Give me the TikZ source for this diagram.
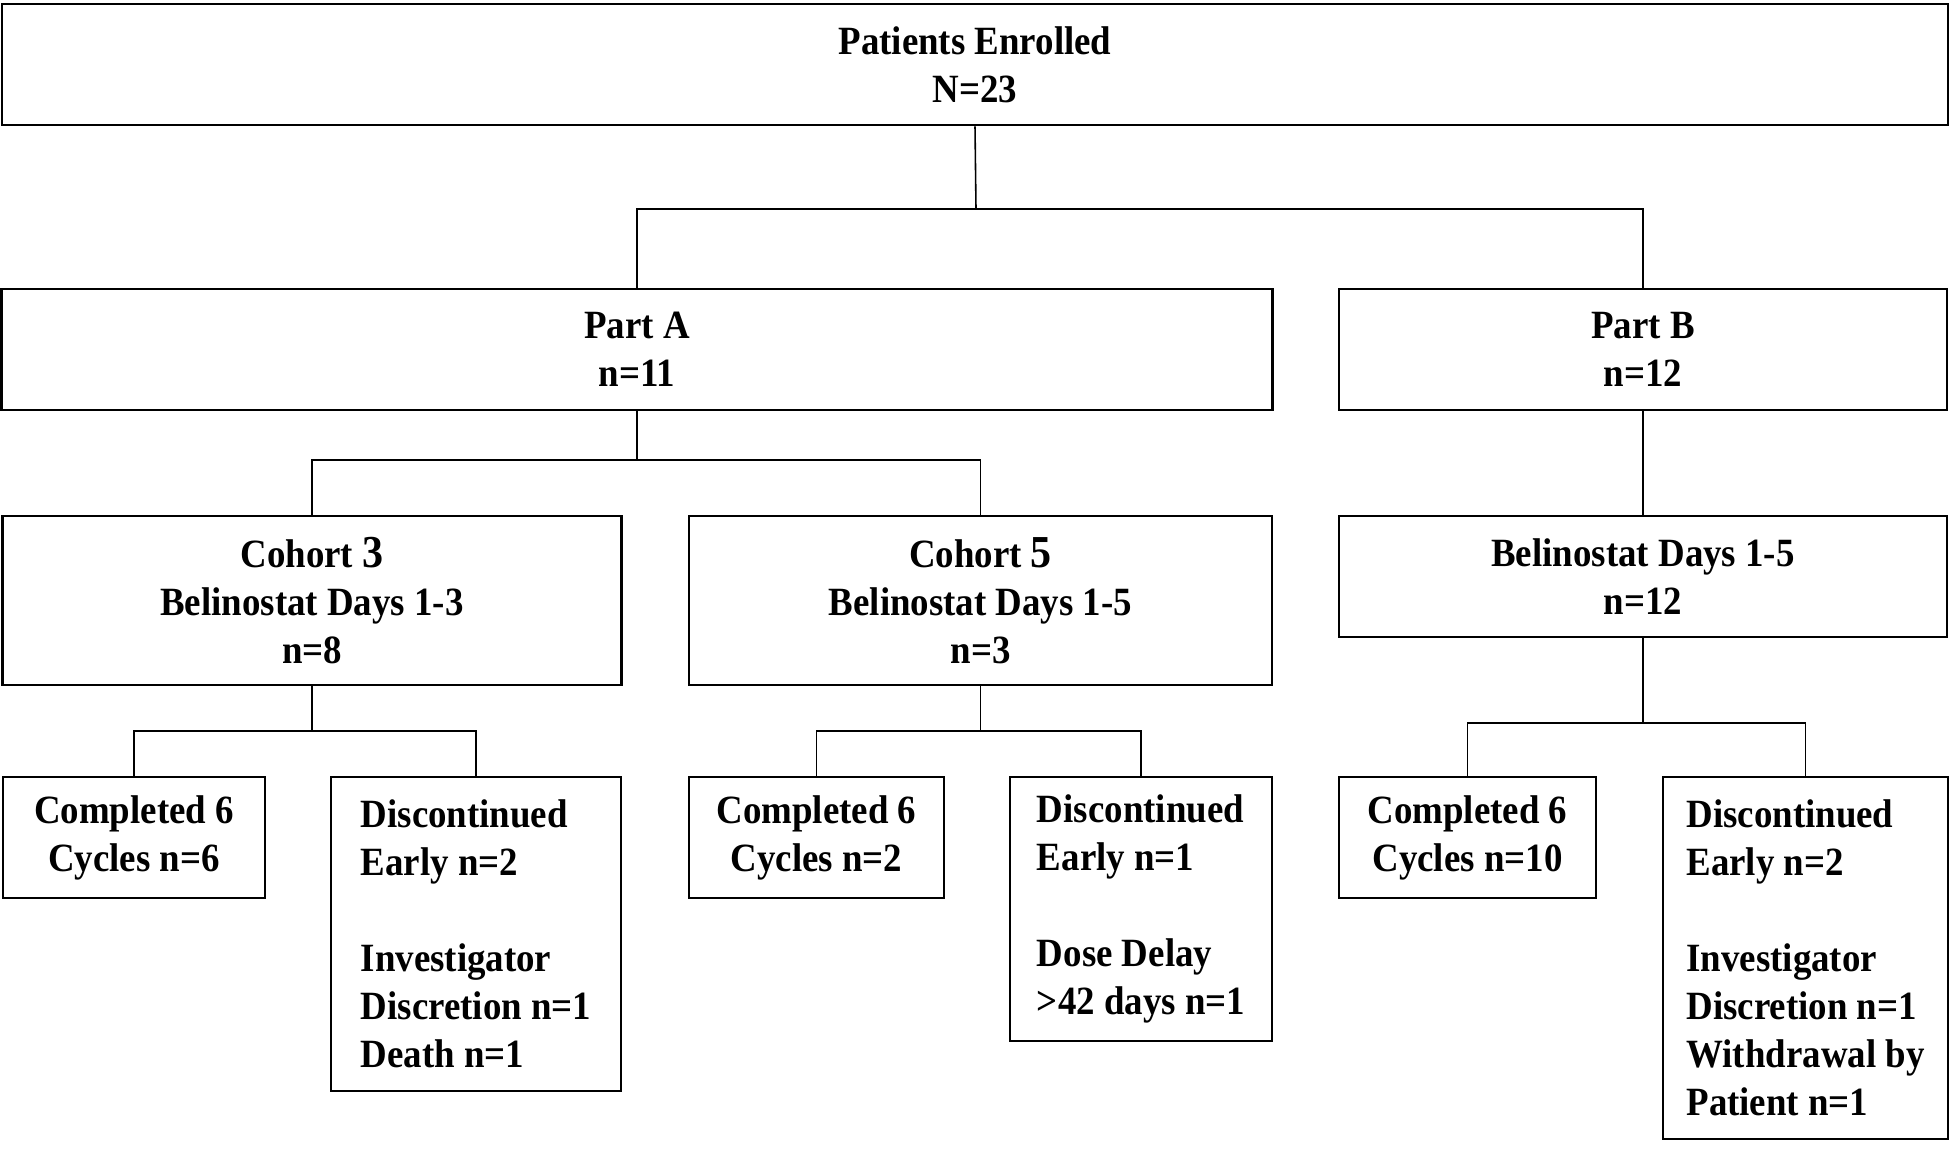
\documentclass[tikz,border=0pt]{standalone}
\usepackage{fontspec}
\setmainfont[FakeStretch=0.92]{Liberation Serif}
\def\bignum#1{{\fontsize{13}{13.66}\selectfont #1}}

\begin{document}
\begin{tikzpicture}[x=0.01cm, y=-0.01cm,
		box/.style={draw, line width=0.7pt, align=center, inner sep=0pt, font=\bfseries\fontsize{11.4}{13.66}\selectfont},
		listbox/.style={box, align=left},
		link/.style={line width=0.45pt}]
			%%%%% START %%%%%
			\useasboundingbox (0, 0) rectangle (1960, 1152);
			
			\node[box, minimum width=19.45cm, minimum height=1.21cm] (enrolled) at (975, 64.5) {Patients Enrolled\\N=23};
			
			\node[box, minimum width=12.70cm, minimum height=1.21cm] (partA) at (637, 349.5) {Part A\\n=11};
			\node[box, minimum width=6.08cm, minimum height=1.21cm] (partB) at (1643, 349.5) {Part B\\n=12};
			
			\node[box, minimum width=6.19cm, minimum height=1.69cm] (coh3) at (312, 600.5) {Cohort \bignum{3}\\Belinostat Days 1-3\\n=8};
			\node[box, minimum width=5.83cm, minimum height=1.69cm] (coh5) at (980.5, 600.5) {Cohort \bignum{5}\\Belinostat Days 1-5\\n=3};
			\node[box, minimum width=6.08cm, minimum height=1.21cm] (belB) at (1643, 576.5) {Belinostat Days 1-5\\n=12};
			
			\node[box, minimum width=2.62cm, minimum height=1.21cm] (done3) at (134, 837.5) {Completed 6\\Cycles n=6};
			\node[listbox, minimum width=2.90cm, minimum height=3.14cm] (disc3) at (476, 934) {Discontinued\\Early n=2\\[13.66pt]Investigator\\Discretion n=1\\Death n=1};
			
			\node[box, minimum width=2.55cm, minimum height=1.21cm] (done5) at (816.5, 837.5) {Completed 6\\Cycles n=2};
			\node[listbox, minimum width=2.62cm, minimum height=2.64cm] (disc5) at (1141, 909) {Discontinued\\Early n=1\\[13.66pt]Dose Delay\\>42 days n=1};
			
			\node[box, minimum width=2.57cm, minimum height=1.21cm] (doneB) at (1467.5, 837.5) {Completed 6\\Cycles n=10};
			\node[listbox, minimum width=2.85cm, minimum height=3.62cm] (discB) at (1805.5, 958) {Discontinued\\Early n=2\\[13.66pt]Investigator\\Discretion n=1\\Withdrawal by\\Patient n=1};
			
			% branch points
			\coordinate (splitTop) at (976, 209);
			\coordinate (splitA) at (637, 460);
			\coordinate (split3) at (312, 731);
			\coordinate (split5) at (980.5, 731);
			\coordinate (splitB) at (1643, 723);
			
			\draw[link] (enrolled.south) -- (splitTop);
			\draw[link] (partA.north) |- (splitTop) -| (partB.north);
			
			\draw[link] (partA.south) -- (splitA);
			\draw[link] (coh3.north) |- (splitA) -| (coh5.north);
			\draw[link] (partB.south) -- (belB.north);
			
			\draw[link] (coh3.south) -- (split3);
			\draw[link] (done3.north) |- (split3) -| (disc3.north);
			
			\draw[link] (coh5.south) -- (split5);
			\draw[link] (done5.north) |- (split5) -| (disc5.north);
			
			\draw[link] (belB.south) -- (splitB);
			\draw[link] (doneB.north) |- (splitB) -| (discB.north);
			
			%%%%% END %%%%%
\end{tikzpicture}
\end{document}
